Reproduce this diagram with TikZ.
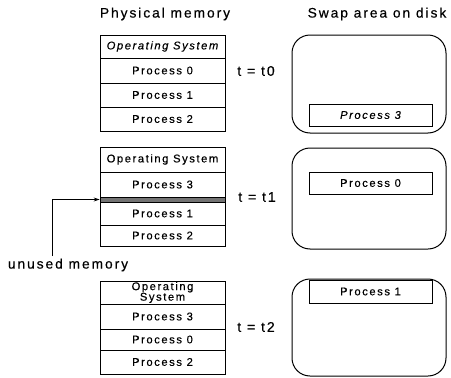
\documentclass[tikz,border=0pt]{standalone}
\usepackage{fontspec}
\setmainfont{Liberation Sans}
\usetikzlibrary{arrows.meta}
\newfontfamily\lsfont[LetterSpace=14,FakeBold=0.4]{Liberation Sans}
\begin{document}
\begin{tikzpicture}[x=1pt,y=-1pt,
  cell/.style={draw=black,line width=0.8pt,rectangle,inner sep=0pt,minimum width=125pt,
     font=\fontsize{11.2}{11}\lsfont},
  disk/.style={draw=black,line width=1pt,rectangle,rounded corners=18pt,inner sep=0pt,minimum width=154pt},
  inbox/.style={draw=black,line width=0.8pt,rectangle,inner sep=0pt,minimum width=123pt,
     font=\fontsize{11.2}{11}\lsfont},
  big/.style={inner sep=0pt,font=\fontsize{13.8}{14}\lsfont},
  tlab/.style={inner sep=0pt,font=\fontsize{14}{14}\lsfont}]
\useasboundingbox (0,0) rectangle (451,378);
% titles
\node[big] (tpm) at (165,14) {Physical memory};
\node[big] (tsw) at (377,14) {Swap area on disk};
% box 1
\node[cell,minimum height=23pt] (a0) at (162.5,46.5) {\itshape Operating System};
\node[cell,minimum height=25pt] (a1) at (162.5,70.5) {Process 0};
\node[cell,minimum height=24pt] (a2) at (162.5,95) {Process 1};
\node[cell,minimum height=24pt] (a3) at (162.5,119) {Process 2};
\node[tlab] (t0) at (256,71) {t = t0};
\node[disk,minimum height=98pt] (d1) at (369,84) {};
\node[inbox,minimum height=22pt] (s1) at (370.5,115) {\itshape Process 3};
% box 2
\node[cell,minimum height=25pt] (b0) at (162.5,159.5) {Operating System};
\node[cell,minimum height=25pt] (b1) at (162.5,184.5) {Process 3};
\node[cell,minimum height=5pt,fill=black!55] (band) at (162.5,199.5) {};
\node[cell,minimum height=23pt] (b2) at (162.5,213.5) {Process 1};
\node[cell,minimum height=21pt] (b3) at (162.5,235.5) {Process 2};
\node[tlab] (t1) at (257,197) {t = t1};
\node[disk,minimum height=101pt] (d2) at (369,198.5) {};
\node[inbox,minimum height=22pt] (s2) at (370.5,183) {Process 0};
% unused memory
\node[big] (um) at (68,265) {unused memory};
\coordinate (uc) at (52,256);
\draw[line width=0.8pt,-{Stealth[length=6pt,width=4pt]}] (uc) |- (band.west);
% box 3
\node[cell,minimum height=23pt,align=center,font=\fontsize{11.2}{10.5}\lsfont] (c0) at (162.5,292.5) {Operating\\System};
\node[cell,minimum height=25pt] (c1) at (162.5,316.5) {Process 3};
\node[cell,minimum height=21pt] (c2) at (162.5,339.5) {Process 0};
\node[cell,minimum height=24pt] (c3) at (162.5,362) {Process 2};
\node[tlab] (t2) at (256,327) {t = t2};
\node[disk,minimum height=97pt] (d3) at (369,327.5) {};
\node[inbox,minimum height=23pt] (s3) at (370.5,291.5) {Process 1};
\end{tikzpicture}
\end{document}
